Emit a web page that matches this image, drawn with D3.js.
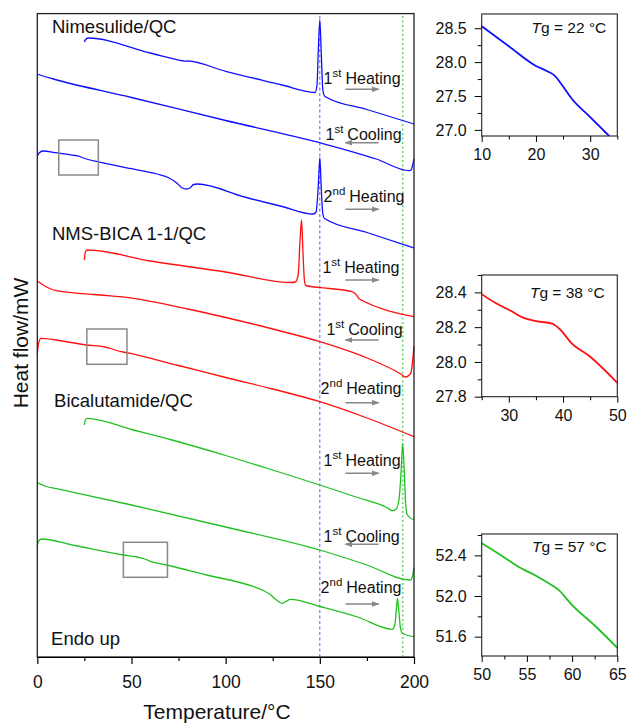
<!DOCTYPE html>
<html lang="en">
<head>
<meta charset="utf-8">
<title>DSC thermograms</title>
<script src="https://d3js.org/d3.v7.min.js"></script>
<style>
  body { margin: 0; background: #fff; }
  svg { font-family: "Liberation Sans", Arial, Helvetica, sans-serif; }
</style>
</head>
<body>
<div id="chart"></div>
<script>
// ---- main panel: [temperature (°C), heat flow (stacked offset, a.u.)] ----
var nimHeat1 = [[25,61.5],[25.5,61.7],[27,61.9],[60,60.4],[78,59.6],[78.8,59.58],[79.6,59.6],[100,58.57],[130,57.2],[146,56.47],
  [147.5,56.45],[148.5,57.2],[149.2,60.7],[150,63.7],[150.8,60.2],[151.6,56.7],[152.5,56.1],[153,56.03],[175,54.75],[200,53.3]];
var nimCool1 = [[0,58.3],[3,58.1],[8.5,57.8],[50,55.95],[100,53.65],[150,51.43],[180,49.8],[197.5,48.63],[198.5,48.7],[199.3,49.2],[200,49.8]];
var nimHeat2 = [[0,50.1],[1,50.4],[3,50.6],[10,50.43],[20,50.15],[22,50.08],[24.5,49.9],[27,49.75],[32,49.53],[50,48.83],[63.5,48.3],
  [70,47.9],[74,47.4],[77,46.9],[79,46.8],[81,46.9],[83,47.25],[85,47.3],[110,46.0],[130,45.05],[146.5,44.3],[148,44.5],
  [149.2,47.2],[150,49.9],[150.8,46.7],[151.6,44.3],[152.5,43.85],[175,42.45],[200,40.9]];

var mixHeat1 = [[25,39.7],[25.5,40.5],[26.5,40.7],[60,39.6],[100,38.5],[135,37.45],[137,37.5],[138.5,38.2],[139.5,41.7],[140.3,43.7],
  [141,40.7],[141.8,37.7],[142.5,37.15],[155,36.85],[167,36.53],[169,36.3],[171,35.8],[173,35.6],[200,34.03]];
var mixCool1 = [[0,37.6],[4,37.1],[10,36.63],[30,36.25],[51,35.87],[80,34.8],[100,33.95],[125,32.8],[150,31.53],[175,29.9],
  [193,28.3],[195.5,28.0],[197.5,28.2],[198.5,28.5],[199.3,29.7],[200,31.1]];
var mixHeat2 = [[0,30.4],[0.7,31.4],[2,31.87],[10,31.7],[26,31.2],[36,31.0],[39,30.85],[42,30.65],[47.5,30.43],[75,29.15],
  [100,27.95],[125,26.8],[150,25.53],[175,23.9],[200,22.03]];

var bicHeat1 = [[25,23.2],[25.5,23.7],[26.5,23.87],[50,22.75],[71.5,21.7],[100,20.15],[125,18.7],[150,17.2],[170,15.95],[186,14.9],
  [188.5,14.63],[190.5,14.8],[192,15.7],[193.2,18.7],[194,21.37],[194.8,18.7],[195.6,15.2],[196.5,14.2],[200,13.7]];
var bicCool1 = [[0,17.43],[4,17.1],[12,16.77],[50,15.2],[100,13.0],[150,10.7],[175,9.2],[198,7.7],[199,7.9],[199.6,8.5],[200,8.97]];
var bicHeat2 = [[0,11.2],[0.7,11.6],[2.3,11.8],[20,11.15],[45.7,10.2],[54,9.95],[57,9.8],[60,9.57],[68.8,9.2],[90,8.2],[114.9,7.03],
  [120,6.65],[124,6.2],[127,5.7],[130,5.37],[132,5.55],[134.4,5.77],[150,5.05],[170,4.0],[187,2.8],[188.5,2.77],[189.8,3.2],
  [190.7,4.9],[191.2,5.87],[191.8,4.9],[192.8,2.9],[193.8,2.37],[200,2.03]];

var samples = ["Nimesulide/QC", "NMS-BICA 1-1/QC", "Bicalutamide/QC"];
var runs = [["1","st","Heating"], ["1","st","Cooling"], ["2","nd","Heating"]];
var meltNim = 150, meltBic = 194;
// zoom windows [T0, T1, flow low, flow high]
var zoomBoxes = [[11.4,32.4,48.2,51.7], [26.3,47.6,29.27,32.8], [45.7,69.1,7.97,11.47]];

// ---- insets: [temperature (°C), heat flow (mW)] ----
var tgNim = [[10,28.53],[15,28.235],[20,27.944],[22,27.87],[23.5,27.797],[25,27.64],[26.5,27.47],[30,27.19],[33.5,26.91]];
var tgMix = [[25,28.39],[27.5,28.34],[30,28.30],[33,28.25],[35,28.235],[38,28.22],[39.5,28.185],[41.5,28.11],[45,28.03],[50,27.88]];
var tgBic = [[50,52.52],[52.5,52.38],[54,52.29],[56,52.20],[57.5,52.12],[58.5,52.06],[60,51.91],[62.5,51.71],[65,51.49]];
var tgValues = [22, 38, 57];

var blue = "#1010ff", red = "#ff1010", green = "#22c022";

var svg = d3.select("#chart").append("svg").attr("width", 627).attr("height", 723);

var defs = svg.append("defs");
defs.append("marker").attr("id", "arr").attr("markerUnits", "userSpaceOnUse")
  .attr("markerWidth", 8).attr("markerHeight", 6).attr("refX", 7).attr("refY", 3).attr("orient", "auto")
  .append("path").attr("d", "M0,0 L8,3 L0,6 z").attr("fill", "#888");

// ================= main panel =================
var x = d3.scaleLinear().domain([0, 200]).range([37.3, 414]);
var y = d3.scaleLinear().domain([0, 64.34]).range([657, 13.6]);

var line = d3.line().x(function(d) { return x(d[0]); }).y(function(d) { return y(d[1]); }).curve(d3.curveMonotoneX);

// vertical reference lines
svg.append("line").attr("x1", x(meltNim)).attr("x2", x(meltNim)).attr("y1", y(0)).attr("y2", y(64.34))
  .attr("stroke", "#5a5aff").attr("stroke-width", 1).attr("stroke-dasharray", "3,2.5");
svg.append("line").attr("x1", x(meltBic)).attr("x2", x(meltBic)).attr("y1", y(0)).attr("y2", y(64.34))
  .attr("stroke", "#66d966").attr("stroke-width", 1.6).attr("stroke-dasharray", "2,2.5");

var curves = [
  {d: nimHeat1, c: blue}, {d: nimCool1, c: blue}, {d: nimHeat2, c: blue},
  {d: mixHeat1, c: red}, {d: mixCool1, c: red}, {d: mixHeat2, c: red},
  {d: bicHeat1, c: green}, {d: bicCool1, c: green}, {d: bicHeat2, c: green}
];
svg.selectAll("path.curve").data(curves).enter().append("path")
  .attr("class", "curve")
  .attr("d", function(d) { return line(d.d); })
  .attr("fill", "none")
  .attr("stroke", function(d) { return d.c; })
  .attr("stroke-width", 1.3);

// grey boxes marking the inset windows
svg.selectAll("rect.zoom").data(zoomBoxes).enter().append("rect")
  .attr("class", "zoom")
  .attr("x", function(d) { return x(d[0]); })
  .attr("y", function(d) { return y(d[3]); })
  .attr("width", function(d) { return x(d[1]) - x(d[0]); })
  .attr("height", function(d) { return y(d[2]) - y(d[3]); })
  .attr("fill", "none").attr("stroke", "#8a8a8a").attr("stroke-width", 1.5);

// sample names
var samplePos = [[7.8, 62.4], [7.8, 41.7], [8.9, 24.97]];
svg.selectAll("text.sample").data(samples).enter().append("text")
  .attr("class", "sample")
  .attr("x", function(d, i) { return x(samplePos[i][0]); })
  .attr("y", function(d, i) { return y(samplePos[i][1]); })
  .attr("font-size", "18.5px").attr("fill", "#111")
  .text(function(d) { return d; });

svg.append("text").attr("x", x(7.3)).attr("y", y(1.2)).attr("font-size", "18.5px").attr("fill", "#111").text("Endo up");

// run labels: [T, text baseline flow, arrow flow] per sample and run
var runPos = [
  [[152, 57.27, 56.77], [153, 51.7, 51.43], [152, 45.53, 44.77]],
  [[151.4, 38.37, 37.7], [153.5, 32.2, 31.7], [150.4, 26.3, 25.43]],
  [[152, 19.1, 18.37], [152, 11.53, 11.27], [150.4, 6.37, 5.3]]
];
runPos.forEach(function(group) {
  group.forEach(function(p, j) {
    var r = runs[j];
    var t = svg.append("text").attr("x", x(p[0])).attr("y", y(p[1])).attr("font-size", "16px").attr("fill", "#111");
    t.append("tspan").text(r[0]);
    t.append("tspan").attr("font-size", "11.5px").attr("dy", -7).text(r[1]);
    t.append("tspan").attr("dy", 7).attr("dx", 4).text(r[2]);
    var a0 = 163.6, a1 = 181.2;
    if (r[2] == "Cooling") { a0 = 181.2; a1 = 163.6; }
    svg.append("line").attr("x1", x(a0)).attr("x2", x(a1)).attr("y1", y(p[2])).attr("y2", y(p[2]))
      .attr("stroke", "#888").attr("stroke-width", 1.6).attr("marker-end", "url(#arr)");
  });
});

// frame + axis
svg.append("rect").attr("x", x(0)).attr("y", y(64.34)).attr("width", x(200) - x(0)).attr("height", y(0) - y(64.34))
  .attr("fill", "none").attr("stroke", "#222").attr("stroke-width", 1.3);

var xAxis = svg.append("g").attr("transform", "translate(0," + y(0) + ")")
  .call(d3.axisBottom(x).tickValues([0, 50, 100, 150, 200]).tickSize(7).tickSizeOuter(0).tickPadding(12).tickFormat(d3.format("d")));
svg.append("g").attr("transform", "translate(0," + y(0) + ")")
  .call(d3.axisBottom(x).tickValues([25, 75, 125, 175]).tickSize(4).tickFormat(""))
  .select(".domain").remove();
xAxis.selectAll("text").attr("font-size", "17.5px").attr("font-family", "Liberation Sans, Arial").attr("fill", "#111");
svg.selectAll(".tick line").attr("stroke-width", 1.2);

svg.append("text").attr("x", 217).attr("y", 719).attr("text-anchor", "middle").attr("font-size", "21px").attr("fill", "#111")
  .text("Temperature/°C");
svg.append("text").attr("transform", "translate(28,343) rotate(-90)").attr("text-anchor", "middle")
  .attr("font-size", "21px").attr("fill", "#111").text("Heat flow/mW");

// ================= insets =================
var insets = [
  {data: tgNim, color: blue, top: 14, bottom: 136, xd: [10, 35], yd: [26.91, 28.71],
   xt: [10, 20, 30], xm: [15, 25, 35], yt: [27.0, 27.5, 28.0, 28.5], ym: [27.25, 27.75, 28.25], lab: [19.2, 28.43]},
  {data: tgMix, color: red, top: 275, bottom: 396.7, xd: [25, 50], yd: [27.8, 28.5],
   xt: [30, 40, 50], xm: [25, 35, 45], yt: [27.8, 28.0, 28.2, 28.4], ym: [27.9, 28.1, 28.3, 28.5], lab: [33.9, 28.37]},
  {data: tgBic, color: green, top: 534, bottom: 656, xd: [50, 65], yd: [51.41, 52.61],
   xt: [50, 55, 60, 65], xm: [52.5, 57.5, 62.5], yt: [51.6, 52.0, 52.4], ym: [51.8, 52.2, 52.6], lab: [55.56, 52.43]}
];

insets.forEach(function(ins, i) {
  var ix = d3.scaleLinear().domain(ins.xd).range([481.7, 617.3]);
  var iy = d3.scaleLinear().domain(ins.yd).range([ins.bottom, ins.top]);
  var g = svg.append("g");

  defs.append("clipPath").attr("id", "clip" + i).append("rect")
    .attr("x", 481.7).attr("y", ins.top).attr("width", 617.3 - 481.7).attr("height", ins.bottom - ins.top);

  g.append("path")
    .attr("d", d3.line().x(function(d) { return ix(d[0]); }).y(function(d) { return iy(d[1]); }).curve(d3.curveMonotoneX)(ins.data))
    .attr("fill", "none").attr("stroke", ins.color).attr("stroke-width", 1.8).attr("clip-path", "url(#clip" + i + ")");

  g.append("rect").attr("x", 481.7).attr("y", ins.top).attr("width", 617.3 - 481.7).attr("height", ins.bottom - ins.top)
    .attr("fill", "none").attr("stroke", "#222").attr("stroke-width", 1.1);

  g.append("g").attr("transform", "translate(0," + ins.bottom + ")")
    .call(d3.axisBottom(ix).tickValues(ins.xt).tickSize(6).tickSizeOuter(0).tickPadding(7).tickFormat(d3.format("d")));
  g.append("g").attr("transform", "translate(0," + ins.bottom + ")")
    .call(d3.axisBottom(ix).tickValues(ins.xm).tickSize(3.5).tickFormat("")).select(".domain").remove();
  g.append("g").attr("transform", "translate(481.7,0)")
    .call(d3.axisLeft(iy).tickValues(ins.yt).tickSize(7).tickSizeOuter(0).tickPadding(8).tickFormat(d3.format(".1f")));
  g.append("g").attr("transform", "translate(481.7,0)")
    .call(d3.axisLeft(iy).tickValues(ins.ym).tickSize(4).tickFormat("")).select(".domain").remove();
  g.selectAll(".domain").remove();
  g.selectAll("text").attr("font-size", "16px").attr("font-family", "Liberation Sans, Arial").attr("fill", "#111");

  var t = g.append("text").attr("x", ix(ins.lab[0])).attr("y", iy(ins.lab[1])).attr("font-size", "15.5px").attr("fill", "#111");
  t.append("tspan").attr("font-style", "italic").text("T");
  t.append("tspan").text("g = " + tgValues[i] + " °C");
});
</script>
</body>
</html>
